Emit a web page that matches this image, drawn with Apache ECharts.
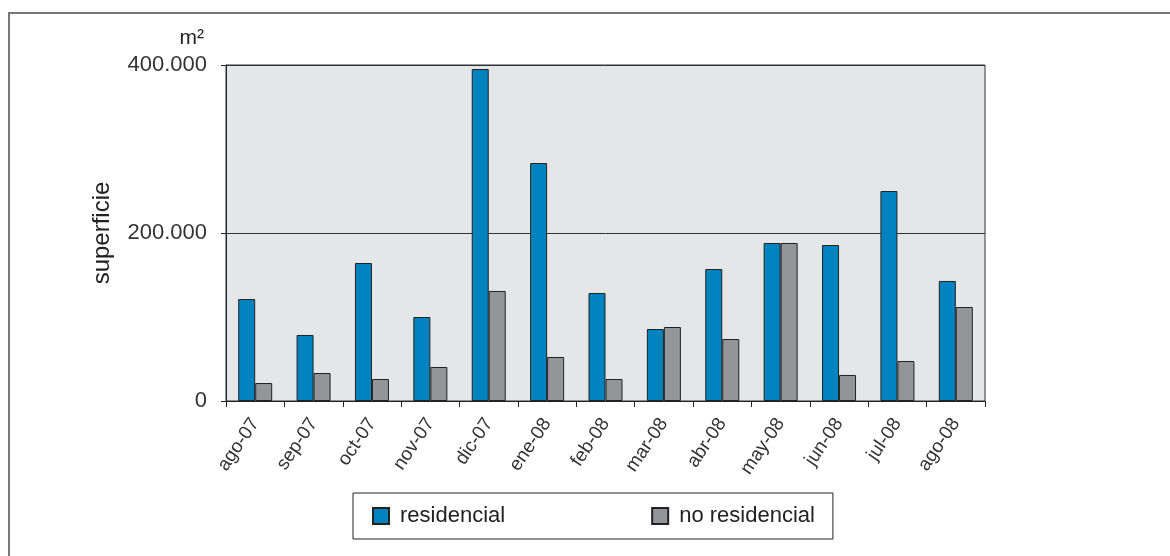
<!DOCTYPE html>
<html>
<head>
<meta charset="utf-8">
<script src="https://cdn.jsdelivr.net/npm/echarts@6/dist/echarts.min.js"></script>
<style>
html,body{margin:0;padding:0;background:#fff;}
#main{width:1170px;height:556px;}
</style>
</head>
<body>
<div id="main"></div>
<script>
const categories = ['ago-07','sep-07','oct-07','nov-07','dic-07','ene-08','feb-08','mar-08','abr-08','may-08','jun-08','jul-08','ago-08'];
const residencial = [121400, 78600, 164300, 100000, 395200, 283300, 128600, 85700, 157100, 188100, 185700, 250000, 142900];
const noResidencial = [21400, 33300, 26200, 40500, 131000, 52400, 26200, 88100, 73800, 188100, 31000, 47600, 111900];
const seriesNames = ['residencial', 'no residencial'];
const yTicks = [0, 200000, 400000];

const fmt = v => String(v).replace(/\B(?=(\d{3})+(?!\d))/g, '.');
const FONT = '"Liberation Sans", Arial, Helvetica, sans-serif';

const chart = echarts.init(document.getElementById('main'), null, {renderer: 'canvas'});
chart.setOption({
  animation: false,
  backgroundColor: '#ffffff',
  textStyle: {fontFamily: FONT},
  graphic: [
    {type: 'polyline', shape: {points: [[9, 556], [9, 13], [1170, 13]]}, style: {stroke: '#777', lineWidth: 2, fill: null}, silent: true},
    {type: 'text', right: 1170 - 204, top: 28, style: {text: 'm²', font: '21px ' + FONT, fill: '#222', textAlign: 'right'}}
  ],
  grid: {
    left: 226, right: 185, top: 65, bottom: 155,
    show: true, backgroundColor: '#e5e6e8', borderColor: '#333', borderWidth: 1
  },
  legend: {
    data: seriesNames,
    left: 353, top: 493,
    padding: [12, 18, 12, 19],
    borderColor: '#222', borderWidth: 1,
    itemWidth: 16, itemHeight: 16, itemGap: 146,
    icon: 'rect',
    textStyle: {fontSize: 22, color: '#222', fontFamily: FONT, padding: [0, 0, 0, 6]}
  },
  xAxis: {
    type: 'category',
    data: categories,
    axisLine: {lineStyle: {color: '#222', width: 1}},
    axisTick: {show: true, length: 6, lineStyle: {color: '#222'}},
    axisLabel: {rotate: 56, fontSize: 19, color: '#333', margin: 19, fontFamily: FONT},
    splitLine: {show: false}
  },
  yAxis: {
    type: 'value',
    min: yTicks[0], max: yTicks[yTicks.length - 1], interval: 200000,
    name: 'superficie', nameLocation: 'middle', nameGap: 112,
    nameTextStyle: {fontSize: 24, color: '#222', fontFamily: FONT},
    axisLine: {show: true, lineStyle: {color: '#222', width: 1}},
    axisTick: {show: true, length: 5, lineStyle: {color: '#222'}},
    axisLabel: {formatter: fmt, fontSize: 22, color: '#333', margin: 19, fontFamily: FONT},
    splitLine: {show: true, lineStyle: {color: '#333', width: 1}}
  },
  series: [
    {name: seriesNames[0], type: 'bar', data: residencial, barWidth: 17, barGap: '0%',
     itemStyle: {color: '#0083bf', borderColor: '#222', borderWidth: 1}},
    {name: seriesNames[1], type: 'bar', data: noResidencial, barWidth: 17, barGap: '0%',
     itemStyle: {color: '#939598', borderColor: '#222', borderWidth: 1}}
  ]
});
</script>
</body>
</html>
